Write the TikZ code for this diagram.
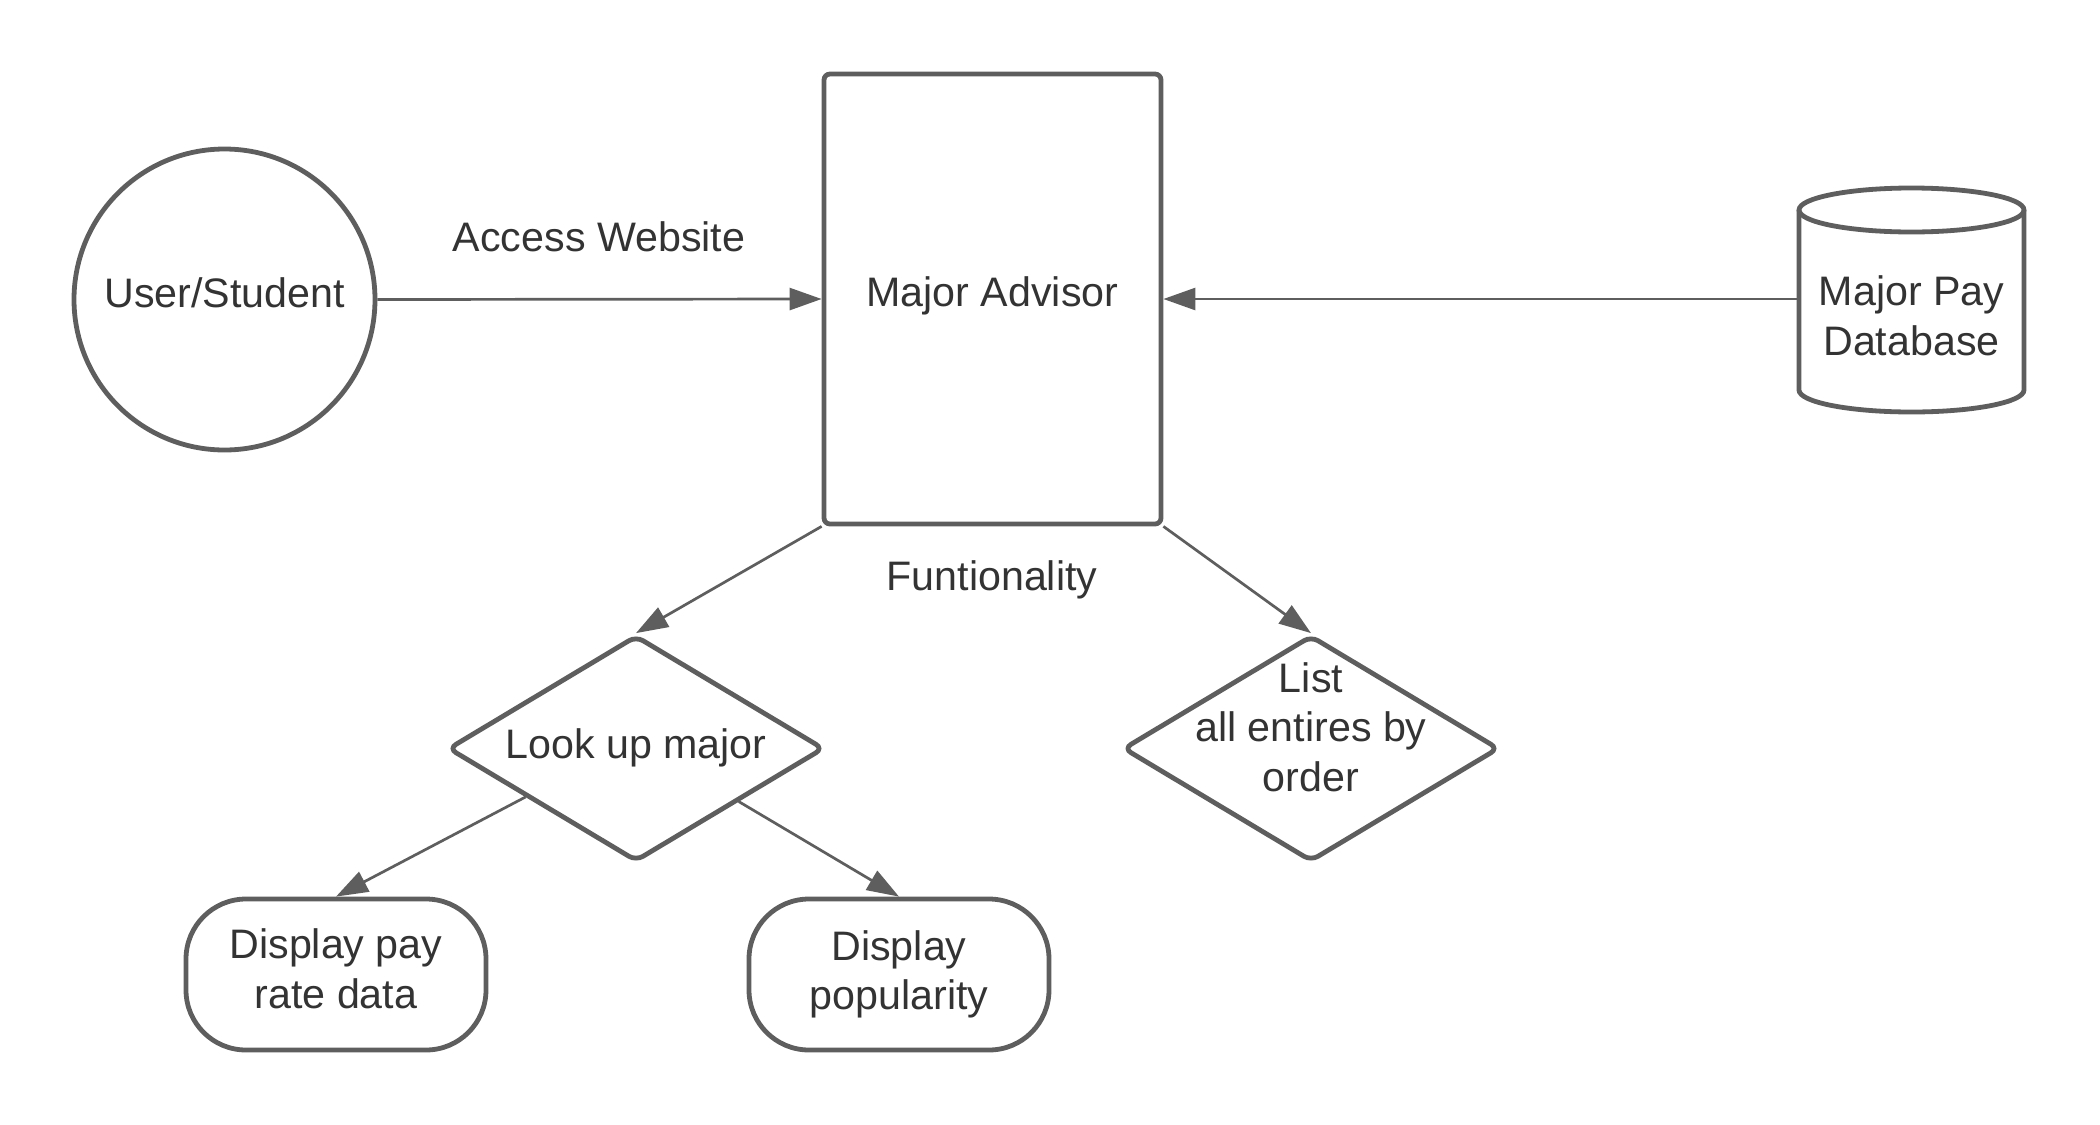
\documentclass[tikz,border=0pt]{standalone}
\usepackage{fontspec}
\setmainfont{Liberation Sans}
\usetikzlibrary{arrows.meta,shapes.geometric,calc}
\definecolor{linegray}{HTML}{5E5E5E}
\definecolor{txtgray}{HTML}{333333}
\begin{document}
\begin{tikzpicture}[x=0.5pt,y=-0.5pt,
  every node/.style={font=\fontsize{20.6}{24.8}\selectfont, text=txtgray},
  shapebox/.style={draw=linegray, line width=2.4pt},
  diam/.style={shapebox, diamond, aspect=1, minimum width=188pt, minimum height=113pt, inner sep=0pt, rounded corners=4pt},
  pill/.style={shapebox, rectangle, rounded corners=30pt, minimum width=150pt, minimum height=75.5pt, align=center},
  conn/.style={draw=linegray, line width=1.35pt, -{Triangle[length=16pt,width=11pt]}},
]
\useasboundingbox[fill=white] (0,0) rectangle (2100,1125);

% nodes
\node[shapebox, circle, minimum size=150.5pt, inner sep=0pt, text depth=7pt] (user) at (224.5,299.5) {User/Student};
\node[shapebox, rectangle, rounded corners=3pt, minimum width=168.5pt, minimum height=225pt, text depth=7.5pt] (adv) at (992.5,299) {Major Advisor};

% database cylinder
\draw[shapebox] (1911.5,210) ellipse[x radius=112.5, y radius=22];
\draw[shapebox] (1799,210) -- (1799,390) arc[start angle=180, end angle=0, x radius=112.5, y radius=22] -- (2024,210);
\node[align=center] (db) at (1911.5,316) {Major Pay\\Database};
\coordinate (dbW) at (1799,299);

\node[diam] (d1) at (636,748.5) {};
\node (d1t) at (636,748) {Look up major};
\node[diam] (d2) at (1311,748.5) {};
\node[align=center] (d2t) at (1311,727) {List\\all entires by\\order};

\node[pill, text depth=6pt] (r1) at (336,974.5) {Display pay\\rate data};
\node[pill] (r2) at (899,974.5) {Display\\popularity};

% labels
\node (lblaccess) at (599,237) {Access Website};
\node (lblfunc) at (992,580) {Funtionality};

% connectors
\draw[conn] (user.east) -- (adv.west);
\draw[conn] (dbW) -- (adv.east);
\draw[conn] (adv.south west) -- (d1.north);
\draw[conn] (adv.south east) -- (d2.north);
\draw[conn] ($(d1.west)!0.42!(d1.south)$) -- (r1.north);
\draw[conn] ($(d1.east)!0.46!(d1.south)$) -- (r2.north);
\end{tikzpicture}
\end{document}
